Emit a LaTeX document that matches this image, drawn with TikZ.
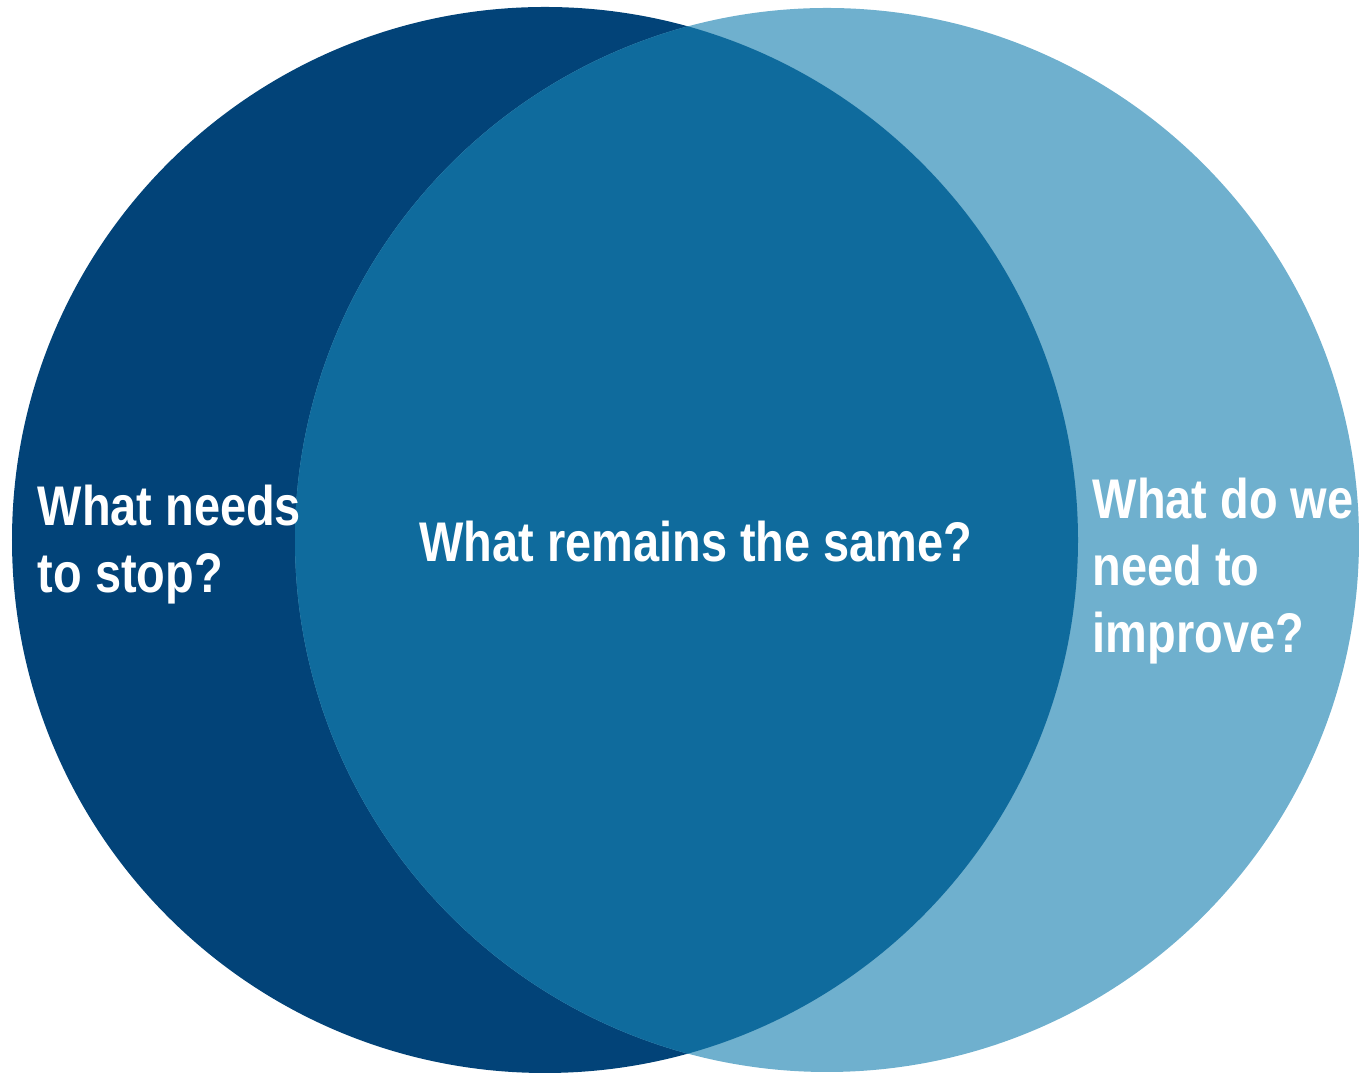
\documentclass[tikz,border=0pt]{standalone}
\usepackage{fontspec}
\setmainfont{Liberation Sans}[FakeStretch=0.84]
\definecolor{stopblue}{RGB}{2,67,120}
\definecolor{sameblue}{RGB}{15,107,157}
\definecolor{improveblue}{RGB}{111,176,206}
\begin{document}
\begin{tikzpicture}
        \tikzstyle{every node}=[font=\fontsize{15.9pt}{19.2pt}\selectfont\bfseries, text=white, inner sep=0pt]
        \useasboundingbox (0,0) rectangle (13.59,10.74);
        \fill[stopblue] (5.45,5.34) circle (5.33cm);
        \fill[improveblue] (8.27,5.34) circle (5.32cm);
        \begin{scope}
            \clip (5.45,5.34) circle (5.33cm);
            \fill[sameblue] (8.27,5.34) circle (5.32cm);
        \end{scope}
        \node[anchor=base west, align=left] (stop) at (0.37,4.81) {What needs\\to stop?};
        \node[anchor=base] (same) at (6.96,5.12) {What remains the same?};
        \node[anchor=base west, align=left] (improve) at (10.92,4.21) {What do we\\need to\\improve?};
    \end{tikzpicture}
\end{document}
